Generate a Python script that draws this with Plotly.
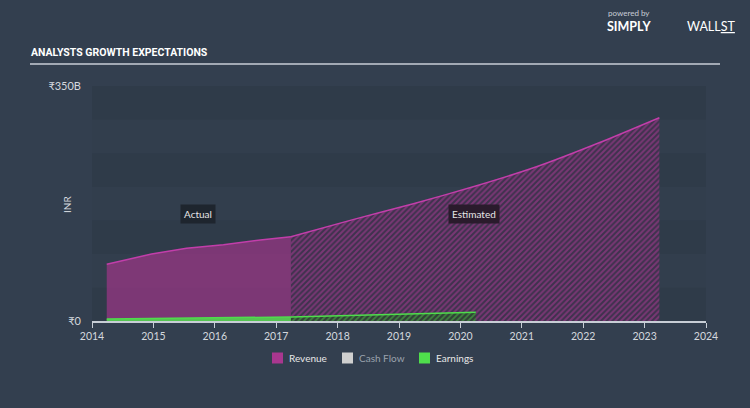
import plotly.graph_objects as go

# ---- data (INR billions) ----
rev_act_x = [2014.24, 2014.97, 2015.54, 2016.14, 2016.74, 2017.24]
rev_act_y = [84.4, 99.8, 108.3, 113.6, 120.6, 125.6]
rev_est_x = [2017.24, 2018.25, 2019.25, 2020.25, 2021.25, 2022.25, 2023.24]
rev_est_y = [125.6, 151.0, 175.0, 201.0, 230.0, 265.0, 302.8]
earn_act_x = [2014.24, 2015.25, 2016.25, 2017.24]
earn_act_y = [3.0, 4.0, 5.0, 6.0]
earn_est_x = [2017.24, 2018.25, 2019.25, 2020.25]
earn_est_y = [6.0, 8.0, 10.5, 13.0]
cash_x = []
cash_y = []
x_ticks = list(range(2014, 2025))
y_ticks = [0, 350]
y_tick_text = ["₹0", "₹350B"]
band_edges = [0, 50, 100, 150, 200, 250, 300, 350]
legend_names = ["Revenue", "Cash Flow", "Earnings"]
legend_colors = ["#a9378f", "#cfcfcf", "#4fde4c"]
legend_text_colors = ["#e8e8e8", "#9aa2ad", "#e8e8e8"]
legend_px = [272, 342, 419]  # swatch left edges (pixels)

BG = "#333f4f"
REV_LINE = "#c23eaa"
EARN = "#4fdc4c"
TXT = "#d4d8de"
FONT = "Lato, DejaVu Sans, sans-serif"

PL, PW, PT, PH = 92, 614, 86, 235  # plot area in pixels


def px_x(p):
    return (p - PL) / PW


def px_y(p):
    return (PT + PH - p) / PH


fig = go.Figure()

shapes = []
for i in range(len(band_edges) - 1):
    shapes.append(dict(type="rect", xref="paper", yref="y", x0=0, x1=1,
                       y0=band_edges[i], y1=band_edges[i + 1], line_width=0,
                       fillcolor="#2f3b49" if (len(band_edges) - 2 - i) % 2 == 0 else "#323e4d",
                       layer="below"))
shapes.append(dict(type="line", xref="paper", yref="paper", x0=px_x(30), x1=px_x(720),
                   y0=px_y(64), y1=px_y(64), line=dict(color="#c8ced6", width=1.5)))

fig.add_trace(go.Scatter(x=rev_act_x, y=rev_act_y, mode="lines", fill="tozeroy",
                         line=dict(color=REV_LINE, width=1.5),
                         fillcolor="rgba(176,54,146,0.6)", showlegend=False, hoverinfo="skip"))
fig.add_trace(go.Scatter(x=rev_est_x, y=rev_est_y, mode="lines", fill="tozeroy",
                         line=dict(color=REV_LINE, width=1.5, shape="spline", smoothing=0.5),
                         fillpattern=dict(shape="/", fgcolor="#b43c9c", bgcolor="#3e324d",
                                          size=4, solidity=0.5),
                         showlegend=False, hoverinfo="skip"))
fig.add_trace(go.Scatter(x=earn_act_x, y=earn_act_y, mode="lines", fill="tozeroy",
                         line=dict(color=EARN, width=1.5),
                         fillcolor="rgba(79,220,76,0.85)", showlegend=False, hoverinfo="skip"))
fig.add_trace(go.Scatter(x=earn_est_x, y=earn_est_y, mode="lines", fill="tozeroy",
                         line=dict(color=EARN, width=1.5),
                         fillpattern=dict(shape="/", fgcolor="#4fc64a", bgcolor="#304236",
                                          size=4, solidity=0.45),
                         showlegend=False, hoverinfo="skip"))
if cash_x:
    fig.add_trace(go.Scatter(x=cash_x, y=cash_y, mode="lines", line=dict(color="#cfcfcf"),
                             showlegend=False))

annotations = [
    dict(text="<b>ANALYSTS GROWTH EXPECTATIONS</b>", xref="paper", yref="paper",
         x=px_x(29), y=px_y(53), xanchor="left", yanchor="middle", showarrow=False,
         font=dict(family="Roboto, Lato, DejaVu Sans", size=10.5, color="#ffffff")),
    dict(text="powered by", xref="paper", yref="paper", x=px_x(606), y=px_y(13),
         xanchor="left", yanchor="middle", showarrow=False,
         font=dict(family=FONT, size=8, color="#c8ced6")),
    dict(text="<b>SIMPLY</b>", xref="paper", yref="paper", x=px_x(605), y=px_y(27),
         xanchor="left", yanchor="middle", showarrow=False,
         font=dict(family=FONT, size=12.5, color="#ffffff")),
    dict(text="WALL<u>ST</u>", xref="paper", yref="paper", x=px_x(685), y=px_y(27),
         xanchor="left", yanchor="middle", showarrow=False,
         font=dict(family=FONT, size=12.5, color="#ffffff")),
    dict(text="INR", xref="paper", yref="paper", x=px_x(67), y=px_y(205), textangle=-90,
         xanchor="center", yanchor="middle", showarrow=False,
         font=dict(family=FONT, size=10, color=TXT)),
    dict(text="Actual", x=2015.72, y=159, xref="x", yref="y",
         showarrow=False, bgcolor="#1e252e", borderpad=3,
         font=dict(family=FONT, size=10, color="#e6e6e6")),
    dict(text="Estimated", x=2020.22, y=159, xref="x", yref="y",
         showarrow=False, bgcolor="#2a1b2c", borderpad=3,
         font=dict(family=FONT, size=10, color="#e6e6e6")),
]

for name, col, tcol, lx in zip(legend_names, legend_colors, legend_text_colors, legend_px):
    shapes.append(dict(type="rect", xref="paper", yref="paper", x0=px_x(lx), x1=px_x(lx + 11),
                       y0=px_y(363.5), y1=px_y(352.5), line_width=0, fillcolor=col))
    annotations.append(dict(text=name, xref="paper", yref="paper", x=px_x(lx + 15), y=px_y(358),
                            xanchor="left", yanchor="middle", showarrow=False,
                            font=dict(family=FONT, size=10, color=tcol)))

fig.update_layout(
    width=750, height=408,
    margin=dict(l=PL, r=750 - PL - PW, t=PT, b=408 - PT - PH),
    paper_bgcolor=BG, plot_bgcolor=BG,
    shapes=shapes, annotations=annotations,
    showlegend=False,
    xaxis=dict(range=[2014, 2024], tickvals=x_ticks, ticks="outside", ticklen=5,
               tickcolor="#c8ced6", showline=True, linecolor="#c8ced6", linewidth=1.5,
               showgrid=False, zeroline=False, fixedrange=True,
               tickfont=dict(family=FONT, size=10.5, color=TXT)),
    yaxis=dict(range=[0, 350], tickvals=y_ticks, ticktext=y_tick_text, ticks="",
               showgrid=False, zeroline=False, showline=False, ticklabelstandoff=10,
               tickfont=dict(family=FONT, size=11, color=TXT)),
)

fig.write_html("out.html")
